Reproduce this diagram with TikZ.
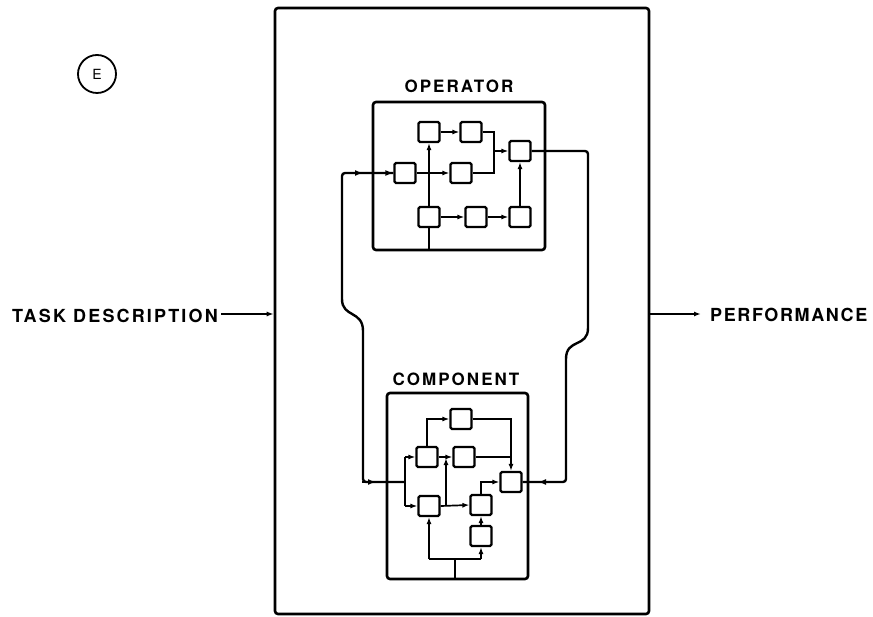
\documentclass[tikz,border=0pt]{standalone}
\usepackage{fontspec}
\setmainfont{TeX Gyre Heros}
\newfontfamily\lblfont[LetterSpace=12]{TeX Gyre Heros}
\newfontfamily\pffont[LetterSpace=9]{TeX Gyre Heros}
\usetikzlibrary{arrows.meta}
\begin{document}
\begin{tikzpicture}[x=1pt,y=-1pt,
  frm/.style={draw, line width=2.6pt, rounded corners=3pt, inner sep=0pt},
  sbox/.style={draw, line width=2.2pt, rounded corners=1.5pt, minimum width=21pt, minimum height=20pt, inner sep=0pt},
  ln/.style={line width=1.7pt},
  bus/.style={line width=2.4pt, rounded corners=3pt},
  arr/.style={ln, -{Latex[length=7pt,width=5pt]}},
  lbl/.style={font=\fontsize{17}{17}\selectfont\lblfont\bfseries},
  side/.style={font=\fontsize{18}{18}\selectfont\lblfont\bfseries},
  dot/.style={circle, fill, inner sep=0pt, minimum size=3.5pt}
]
\useasboundingbox (0,0) rectangle (873,617);

% circle tag
\node[draw, circle, line width=1.8pt, minimum size=38pt, inner sep=0pt, font=\fontsize{14}{14}\selectfont] (tag) at (97,74) {E};

% main frame
\node[frm, minimum width=374pt, minimum height=606pt] (frame) at (462,311) {};

% side texts
\node[side, anchor=east, inner sep=0pt] (td) at (218,316) {TASK DESCRIPTION};
\node[anchor=west, inner sep=0pt, font=\fontsize{18}{18}\selectfont\pffont\bfseries] (pf) at (710,315) {PERFORMANCE};
\coordinate (tdA) at (221,314);
\coordinate (pfA) at (701,314);
\draw[arr] (tdA) -- (tdA -| frame.west);
\draw[arr] (pfA -| frame.east) -- (pfA);

% ---------------- OPERATOR ----------------
\node[frm, minimum width=172pt, minimum height=148pt] (op) at (459,176) {};
\node[lbl] (oplbl) at (459,86) {OPERATOR};

\node[sbox] (A) at (405,173) {};
\node[sbox] (B) at (429,132) {};
\node[sbox] (C) at (471,132) {};
\node[sbox] (D) at (461,173) {};
\node[sbox] (E) at (520,151) {};
\node[sbox] (F) at (429,217) {};
\node[sbox] (G) at (476,217) {};
\node[sbox] (H) at (520,217) {};

\coordinate (oj) at (429,173);
\draw[ln] (F.south) -- (F.south |- op.south);
\draw[arr] (F.north) -- (B.south);
\draw[arr] (A.east) -- (D.west);
\node[dot] (ojdot) at (oj) {};
\draw[arr] (B.east) -- (C.west);
\draw[ln] (C.east) -- (494,132) -- (494,173) -- (D.east);
\draw[arr] (494,151) -- (E.west);
\draw[arr] (F.east) -- (G.west);
\draw[arr] (G.east) -- (H.west);
\draw[arr] (H.north) -- (E.south);

% ---------------- COMPONENT ----------------
\node[frm, minimum width=141pt, minimum height=186pt] (cp) at (457.5,486) {};
\node[lbl] (cplbl) at (456,379) {COMPONENT};

\node[sbox] (P1) at (461,419) {};
\node[sbox] (P2) at (427,457) {};
\node[sbox] (P3) at (464,457) {};
\node[sbox] (P4) at (511,482) {};
\node[sbox] (P5) at (429,506) {};
\node[sbox] (P6) at (481,505) {};
\node[sbox] (P7) at (481,536) {};

\coordinate (J1) at (405,482);
\draw[ln] (405,457) -- (405,506);
\draw[arr] (405,457) -- (P2.west);
\draw[arr] (405,506) -- (P5.west);
\draw[arr] (P2.north) |- (P1.west);
\draw[arr] (P1.east) -| (P4.north);
\draw[arr] (P2.east) -- (P3.west);
\draw[ln] (P3.east) -- (511,457);
\draw[arr] (P5.east) -- (P6.west);
\draw[arr] (446,506) -- (446,458);
\draw[arr] (P6.north) |- (P4.west);
\draw[arr] (P7.north) -- (P6.south);
\coordinate (cb) at (455,559);
\draw[ln] (cb) -- (cb |- cp.south);
\draw[ln] (429,559) -- (481,559);
\draw[arr] (429,559) -- (P5.south);
\draw[arr] (481,559) -- (P7.south);

% ---------------- buses ----------------
\draw[bus] (A.west) -- (342,173) -- (342,296)
   .. controls (342,318) and (363,310) .. (363,334) -- (363,482) -- (J1);
\draw[ln, -{Latex[length=8pt,width=6pt]}] (350,173) -- (363,173);
\draw[ln, -{Latex[length=8pt,width=6pt]}] (383,173) -- (A.west);
\draw[ln, -{Latex[length=8pt,width=6pt]}] (362,482) -- (376,482);

\draw[bus] (E.east) -- (588,151) -- (588,325)
   .. controls (588,348) and (566,338) .. (566,362) -- (566,482) -- (P4.east);
\draw[ln, -{Latex[length=8pt,width=6pt]}] (552,482) -- (538,482);
\end{tikzpicture}
\end{document}
